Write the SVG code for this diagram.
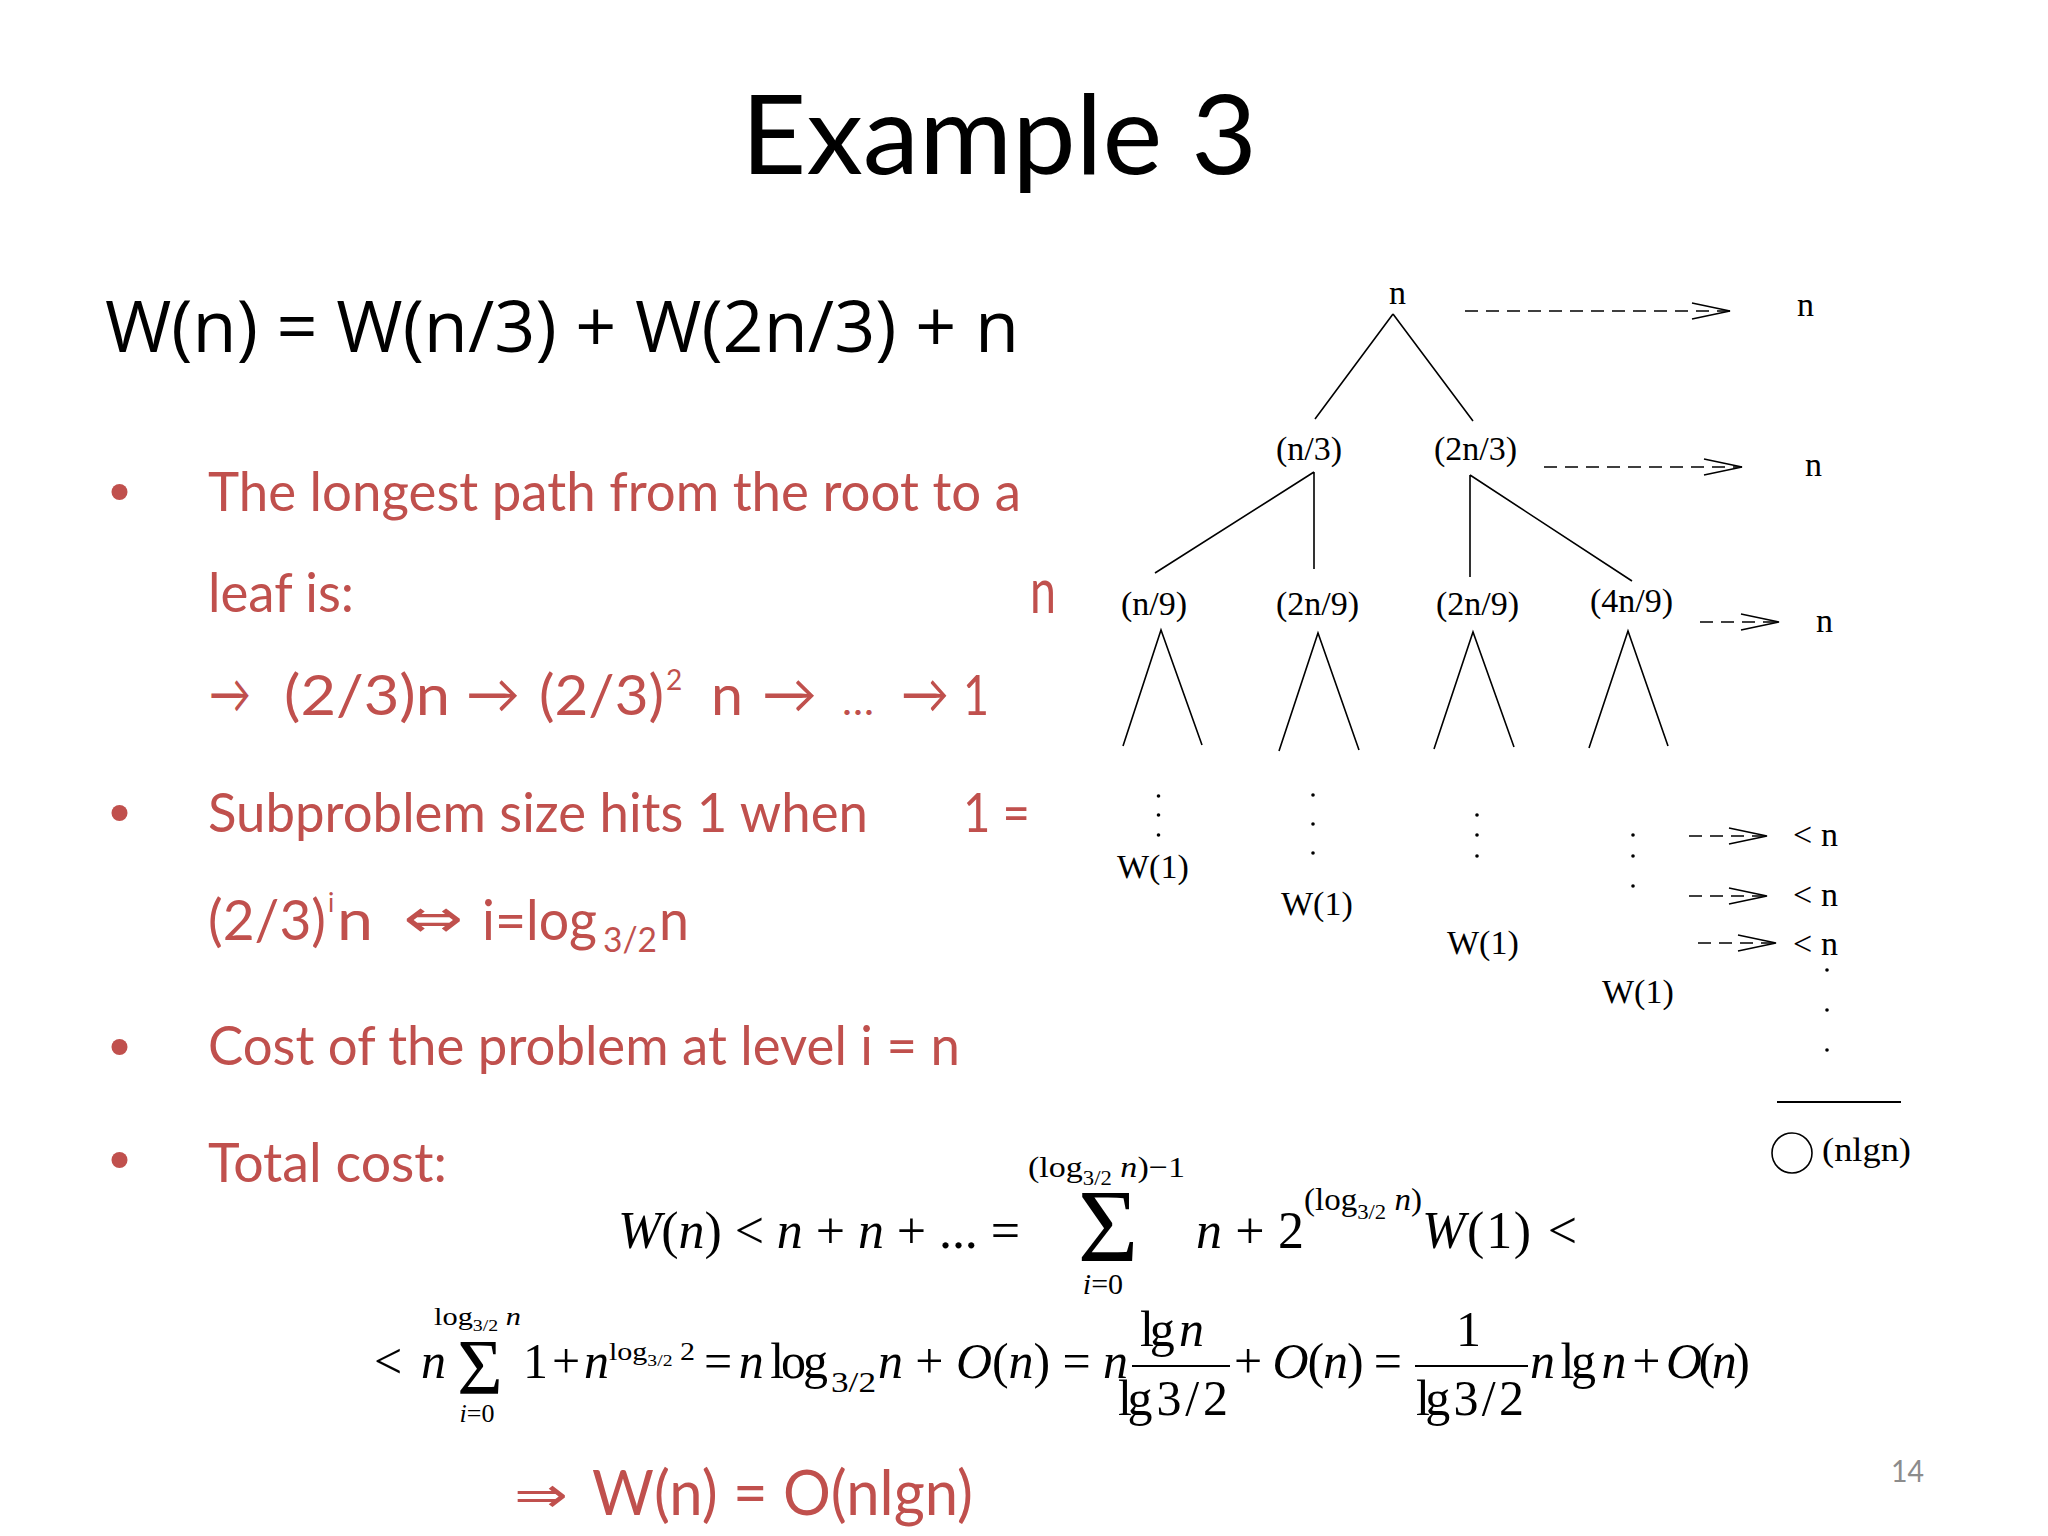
<svg xmlns="http://www.w3.org/2000/svg" width="2048" height="1536" viewBox="0 0 2048 1536">
<defs>
<style>
.title{font-family:Lato,"Liberation Sans",sans-serif;font-size:111px;fill:#000}
.hw{font-family:"Open Sans","Liberation Sans",sans-serif;font-weight:500;fill:#000}
.red{font-family:Lato,"DejaVu Sans",sans-serif;fill:#C0504D}
.tr{font-family:"Liberation Serif","Times New Roman",serif;font-size:34px;fill:#000}
.m{font-family:"Liberation Serif","Times New Roman",serif;fill:#000}
.i{font-style:italic}
.edge{stroke:#000;stroke-width:1.6;fill:none}
.dash{stroke:#000;stroke-width:1.6;fill:none;stroke-dasharray:13 8;marker-end:url(#ah)}
.dot{fill:#000}
.bul{fill:#C0504D}
</style>
<marker id="ah" markerUnits="userSpaceOnUse" markerWidth="44" markerHeight="22" refX="40" refY="11" orient="auto">
<path d="M2,3 L40,11 L2,19" fill="none" stroke="#000" stroke-width="1.6"/>
</marker>
</defs>
<rect width="2048" height="1536" fill="#fff"/>

<text class="title" x="741" y="174" textLength="516" lengthAdjust="spacingAndGlyphs">Example 3</text>

<text class="hw" x="105" y="352" font-size="72" textLength="914" lengthAdjust="spacingAndGlyphs">W(n) = W(n/3) + W(2n/3) + n</text>

<g id="bullets">
<circle class="bul" cx="119.5" cy="492" r="8"/>
<circle class="bul" cx="119.5" cy="813" r="8"/>
<circle class="bul" cx="119.5" cy="1047" r="8"/>
<circle class="bul" cx="119.5" cy="1160" r="8"/>
<text class="red" x="208" y="511" font-size="54" textLength="813" lengthAdjust="spacingAndGlyphs">The longest path from the root to a</text>
<text class="red" x="208" y="612" font-size="54" textLength="146" lengthAdjust="spacingAndGlyphs">leaf is:</text>
<text class="red" x="1030" y="613" font-size="62" textLength="26" lengthAdjust="spacingAndGlyphs">n</text>
<g class="red" font-size="56">
<text x="209" y="713" textLength="42" lengthAdjust="spacingAndGlyphs" font-size="54">→</text>
<text x="284" y="715" textLength="166" lengthAdjust="spacingAndGlyphs">(2/3)n</text>
<text x="466" y="713" textLength="54" lengthAdjust="spacingAndGlyphs" font-size="54">→</text>
<text x="539" y="715" textLength="125" lengthAdjust="spacingAndGlyphs">(2/3)</text>
<text x="666" y="690" font-size="28">2</text>
<text x="711" y="715" textLength="32" lengthAdjust="spacingAndGlyphs">n</text>
<text x="762" y="713" textLength="55" lengthAdjust="spacingAndGlyphs" font-size="54">→</text>
<text x="842" y="715" textLength="32" lengthAdjust="spacingAndGlyphs" font-size="40">…</text>
<text x="901" y="713" textLength="48" lengthAdjust="spacingAndGlyphs" font-size="54">→</text>
<text x="963" y="715" textLength="26" lengthAdjust="spacingAndGlyphs">1</text>
</g>
<text class="red" x="208" y="832" font-size="54" textLength="660" lengthAdjust="spacingAndGlyphs">Subproblem size hits 1 when</text>
<text class="red" x="963" y="832" font-size="54" textLength="67" lengthAdjust="spacingAndGlyphs">1 =</text>
<g class="red" font-size="56">
<text x="208" y="940" textLength="118" lengthAdjust="spacingAndGlyphs">(2/3)</text>
<text x="328" y="912" font-size="26">i</text>
<text x="337" y="940" textLength="36" lengthAdjust="spacingAndGlyphs">n</text>
<text x="403" y="937" font-size="54" textLength="60" lengthAdjust="spacingAndGlyphs">⇔</text>
<text x="482" y="940" textLength="115" lengthAdjust="spacingAndGlyphs">i=log</text>
<text x="603" y="952" font-size="34" textLength="54" lengthAdjust="spacingAndGlyphs">3/2</text>
<text x="659" y="940" textLength="30" lengthAdjust="spacingAndGlyphs">n</text>
</g>
<text class="red" x="208" y="1065" font-size="54" textLength="752" lengthAdjust="spacingAndGlyphs">Cost of the problem at level i = n</text>
<text class="red" x="208" y="1182" font-size="54" textLength="239" lengthAdjust="spacingAndGlyphs">Total cost:</text>
<text class="red" x="514" y="1512" font-size="50" textLength="54" lengthAdjust="spacingAndGlyphs">⇒</text>
<text class="red" x="592" y="1515" font-size="62" textLength="381" lengthAdjust="spacingAndGlyphs">W(n) = O(nlgn)</text>
</g>

<g id="math">
<text class="m" x="618" y="1248" font-size="52" textLength="402" lengthAdjust="spacing"><tspan class="i">W</tspan>(<tspan class="i">n</tspan>) &lt; <tspan class="i">n</tspan> + <tspan class="i">n</tspan> + ... =</text>
<text class="m" x="1108" y="1261" font-size="104" text-anchor="middle">Σ</text>
<text class="m" x="1028" y="1177" font-size="30" textLength="157" lengthAdjust="spacingAndGlyphs">(log<tspan font-size="20" dy="8">3/2</tspan><tspan class="i" dy="-8"> n</tspan>)−1</text>
<text class="m" x="1103" y="1294" font-size="30" text-anchor="middle"><tspan class="i">i</tspan>=0</text>
<text class="m" x="1196" y="1248" font-size="52" textLength="108" lengthAdjust="spacing"><tspan class="i">n</tspan> + 2</text>
<text class="m" x="1304" y="1210" font-size="32" textLength="118" lengthAdjust="spacingAndGlyphs">(log<tspan font-size="22" dy="9">3/2</tspan><tspan class="i" dy="-9"> n</tspan>)</text>
<text class="m" x="1422" y="1248" font-size="52" textLength="155" lengthAdjust="spacing"><tspan class="i">W</tspan>(1) &lt;</text>

<text class="m" x="374" y="1378" font-size="50" textLength="72" lengthAdjust="spacing">&lt; <tspan class="i">n</tspan></text>
<text class="m" x="480" y="1393" font-size="78" text-anchor="middle">Σ</text>
<text class="m" x="434" y="1325" font-size="26" textLength="87" lengthAdjust="spacingAndGlyphs">log<tspan font-size="17" dy="6">3/2</tspan><tspan class="i" dy="-6"> n</tspan></text>
<text class="m" x="477" y="1422" font-size="26" text-anchor="middle"><tspan class="i">i</tspan>=0</text>
<text class="m" x="523" y="1378" font-size="50" textLength="86" lengthAdjust="spacing">1 + <tspan class="i">n</tspan></text>
<text class="m" x="609" y="1360" font-size="26" textLength="86" lengthAdjust="spacingAndGlyphs">log<tspan font-size="17" dy="6">3/2</tspan><tspan dy="-6"> 2</tspan></text>
<text class="m" x="704" y="1378" font-size="50" textLength="124" lengthAdjust="spacing">= <tspan class="i">n</tspan> log</text>
<text class="m" x="831" y="1392" font-size="30" textLength="45" lengthAdjust="spacingAndGlyphs">3/2</text>
<text class="m" x="878" y="1378" font-size="50" textLength="250" lengthAdjust="spacing"><tspan class="i">n</tspan> + <tspan class="i">O</tspan>(<tspan class="i">n</tspan>) = <tspan class="i">n</tspan></text>
<text class="m" x="1140" y="1346" font-size="50" textLength="64" lengthAdjust="spacing">lg <tspan class="i">n</tspan></text>
<text class="m" x="1118" y="1415" font-size="50" textLength="110" lengthAdjust="spacing">lg 3 / 2</text>
<text class="m" x="1234" y="1378" font-size="50" textLength="168" lengthAdjust="spacing">+ <tspan class="i">O</tspan>(<tspan class="i">n</tspan>) =</text>
<text class="m" x="1456" y="1346" font-size="50">1</text>
<text class="m" x="1416" y="1415" font-size="50" textLength="108" lengthAdjust="spacing">lg 3 / 2</text>
<text class="m" x="1530" y="1378" font-size="50" textLength="220" lengthAdjust="spacing"><tspan class="i">n</tspan> lg <tspan class="i">n</tspan> + <tspan class="i">O</tspan>(<tspan class="i">n</tspan>)</text>
<line x1="1132" y1="1366" x2="1230" y2="1366" stroke="#000" stroke-width="2"/>
<line x1="1415" y1="1366" x2="1528" y2="1366" stroke="#000" stroke-width="2"/>
</g>

<g id="connectors">
<path class="edge" d="M1393,314 L1315,419 M1393,314 L1473,421"/>
<path class="edge" d="M1314,472 L1155,573 M1314,472 L1314,569 M1470,475 L1470,577 M1470,475 L1632,581"/>
<path class="edge" d="M1123,746 L1161,630 L1202,745"/>
<path class="edge" d="M1279,751 L1318,633 L1359,750"/>
<path class="edge" d="M1434,749 L1473,632 L1514,747"/>
<path class="edge" d="M1589,748 L1628,631 L1668,746"/>
<line class="dash" x1="1465" y1="311" x2="1730" y2="311"/>
<line class="dash" x1="1544" y1="467" x2="1742" y2="467"/>
<line class="dash" x1="1700" y1="622" x2="1779" y2="622"/>
<line class="dash" x1="1689" y1="836" x2="1767" y2="836"/>
<line class="dash" x1="1689" y1="896" x2="1767" y2="896"/>
<line class="dash" x1="1698" y1="943" x2="1776" y2="943"/>
<line x1="1777" y1="1102" x2="1901" y2="1102" stroke="#000" stroke-width="1.8"/>
</g>

<g id="node-root"><text class="tr" x="1389" y="304" font-size="32">n</text></g>
<g id="node-n3"><text class="tr" x="1276" y="460">(n/3)</text></g>
<g id="node-2n3"><text class="tr" x="1434" y="460">(2n/3)</text></g>
<g id="node-n9"><text class="tr" x="1121" y="615">(n/9)</text></g>
<g id="node-2n9a"><text class="tr" x="1276" y="615">(2n/9)</text></g>
<g id="node-2n9b"><text class="tr" x="1436" y="615">(2n/9)</text></g>
<g id="node-4n9"><text class="tr" x="1590" y="612">(4n/9)</text></g>

<g id="leaf-1">
<circle class="dot" cx="1158.5" cy="796" r="1.8"/><circle class="dot" cx="1158.5" cy="815" r="1.8"/><circle class="dot" cx="1158.5" cy="835" r="1.8"/>
<text class="tr" x="1117" y="878">W(1)</text>
</g>
<g id="leaf-2">
<circle class="dot" cx="1313" cy="795" r="1.8"/><circle class="dot" cx="1313" cy="824" r="1.8"/><circle class="dot" cx="1313" cy="853" r="1.8"/>
<text class="tr" x="1281" y="915">W(1)</text>
</g>
<g id="leaf-3">
<circle class="dot" cx="1477" cy="815" r="1.8"/><circle class="dot" cx="1477" cy="835" r="1.8"/><circle class="dot" cx="1477" cy="856" r="1.8"/>
<text class="tr" x="1447" y="954">W(1)</text>
</g>
<g id="leaf-4">
<circle class="dot" cx="1633" cy="835" r="1.8"/><circle class="dot" cx="1633" cy="856" r="1.8"/><circle class="dot" cx="1633" cy="886" r="1.8"/>
<text class="tr" x="1602" y="1003">W(1)</text>
</g>

<g id="level-costs">
<text class="tr" x="1797" y="316" font-size="36">n</text>
<text class="tr" x="1805" y="476" font-size="36">n</text>
<text class="tr" x="1816" y="632" font-size="36">n</text>
<text class="tr" x="1793" y="846" font-size="36" textLength="45" lengthAdjust="spacing">&lt;n</text>
<text class="tr" x="1793" y="906" font-size="36" textLength="45" lengthAdjust="spacing">&lt;n</text>
<text class="tr" x="1793" y="955" font-size="36" textLength="45" lengthAdjust="spacing">&lt;n</text>
<circle class="dot" cx="1827" cy="970" r="1.8"/><circle class="dot" cx="1827" cy="1010" r="1.8"/><circle class="dot" cx="1827" cy="1050" r="1.8"/>
</g>

<g id="total">
<ellipse cx="1792" cy="1153" rx="20" ry="20" fill="none" stroke="#000" stroke-width="1.6"/>
<text class="tr" x="1822" y="1161" font-size="36" textLength="89" lengthAdjust="spacingAndGlyphs">(nlgn)</text>
</g>

<text x="1891" y="1482" font-family="Lato,'Liberation Sans',sans-serif" font-size="30" fill="#8c8c8c" textLength="33" lengthAdjust="spacingAndGlyphs">14</text>
</svg>
